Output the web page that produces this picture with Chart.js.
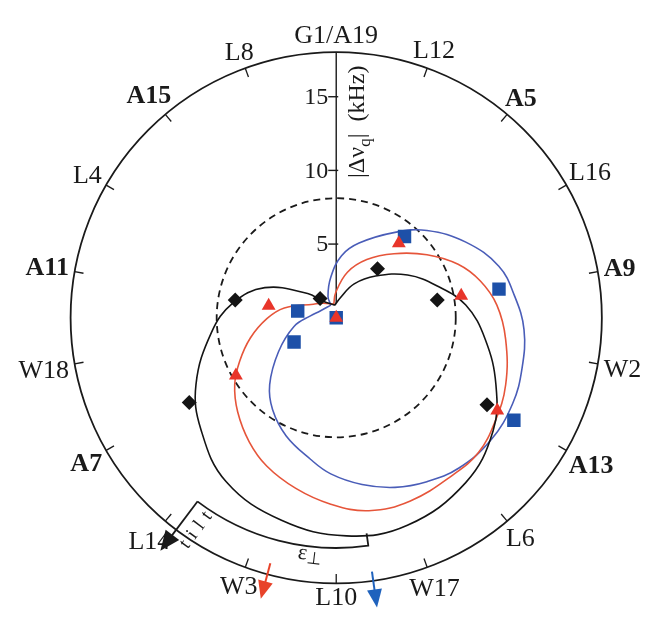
<!DOCTYPE html>
<html lang="en">
<head>
  <meta charset="UTF-8">
  <title>Helical wheel |Δνq|</title>
  <script src="https://cdn.jsdelivr.net/npm/chart.js"></script>
  <style>
    body { margin: 0; background: #fff; }
    .chart-container { position: relative; width: 654px; height: 619px; }
  </style>
</head>
<body>

  <div class="chart-container">
    <canvas id="myChart"></canvas>
  </div>

<script>
  // wheel positions, 20 deg apart, clockwise from the top
  const wheelLabels = ['G1/A19', 'L12', 'A5', 'L16', 'A9', 'W2', 'A13', 'L6', 'W17',
                       'L10', 'W3', 'L14', 'A7', 'W18', 'A11', 'L4', 'A15', 'L8'];
  const boldLabels = ['A5', 'A9', 'A13', 'A7', 'A11', 'A15'];
  const radialTicks = [5, 10, 15];

  // measured Ala positions: A5, A9, A13, A7, A11, A15
  const alaAngles = [40, 80, 120, 240, 280, 320];
  const blackVals = [4.35, 6.95, 11.8, 11.5, 6.95, 1.7];
  const redVals   = [6.6, 8.6, 12.6, 7.85, 4.65, 0];
  const blueVals  = [7.2, 11.2, 13.9, 3.3, 2.65, 0];

  // fitted curves, [angle, |dv| kHz]
  const blackCurve = [[353.4,0.86],[12.1,1.41],[27.9,2.6],[43.3,3.89],[59.1,5.64],[72.3,7.15],
    [84.4,8.82],[98.2,10.2],[112.8,11.74],[125.9,13.12],[141.9,14.22],[161.1,14.89],[177.3,14.82],
    [195.1,14.24],[213.9,13.39],[230.5,11.89],[244.5,10.53],[263.3,8.51],[278,7.08],[292.9,5.25],
    [310.3,2.54],[321.6,1.43],[353.4,0.86]];
  const redCurve = [[349.9,0.94],[358.9,1.71],[13.8,3.18],[27.7,4.46],[42,5.85],[55.2,7.49],
    [66.3,9.02],[75.7,10.08],[85.5,10.92],[97.2,11.57],[111.6,12.35],[123.2,12.86],[133.5,13.29],
    [143.4,13.28],[158,13.41],[170.4,13.28],[181.9,12.64],[193.3,11.9],[205.1,11.11],[215,10.28],
    [226.3,9.24],[236.6,8.24],[245.7,7.18],[256.7,5.98],[269.2,4.7],[280.6,3.58],[300.8,1.8],
    [318,1.33],[349.9,0.94]];
  const blueCurve = [[337.1,0.93],[338.9,1.55],[352.5,2.79],[4.9,4.23],[17,5.3],[34.5,7.03],
    [46.1,8.54],[59.7,10.17],[72.4,11.56],[82.9,12.17],[93.6,12.75],[105.2,13.05],[116.1,13.3],
    [128.3,13.37],[140.8,13.16],[151.1,12.71],[160.9,12.18],[171.2,11.45],[182,10.6],[190.3,9.76],
    [202.9,8.71],[214.6,7.59],[224.8,6.4],[239.5,4.54],[258.3,2.92],[274.3,1.75],[293,1.18],
    [337.1,0.93]];

  const wheelRadius = 18;
  const refRadius = 8.1;
  const redDir = 195, blueDir = 172, tiltDir = 217;

  const serif = "'Liberation Serif', 'Times New Roman', serif";

  function toXY(angle, r) {
    var a = angle * Math.PI / 180;
    return { x: r * Math.sin(a), y: r * Math.cos(a) };
  }

  function curveData(c) {
    return c.map(p => toXY(p[0], p[1]));
  }

  function pointData(vals) {
    return alaAngles.map((a, i) => toXY(a, vals[i]));
  }

  function drawArrow(ctx, from, to, color, lw, headLen, headW) {
    var dx = to[0] - from[0], dy = to[1] - from[1];
    var len = Math.hypot(dx, dy), ux = dx / len, uy = dy / len;
    var bx = to[0] - ux * headLen, by = to[1] - uy * headLen;
    ctx.strokeStyle = color;
    ctx.lineWidth = lw;
    ctx.beginPath();
    ctx.moveTo(from[0], from[1]);
    ctx.lineTo(bx + ux * 2, by + uy * 2);
    ctx.stroke();
    ctx.fillStyle = color;
    ctx.beginPath();
    ctx.moveTo(to[0], to[1]);
    ctx.lineTo(bx - uy * headW / 2, by + ux * headW / 2);
    ctx.lineTo(bx + uy * headW / 2, by - ux * headW / 2);
    ctx.closePath();
    ctx.fill();
  }

  const wheel = {
    id: 'wheel',
    beforeDatasetsDraw(chart) {
      const ctx = chart.ctx;
      const xs = chart.scales.x, ys = chart.scales.y;
      const cx = xs.getPixelForValue(0), cy = ys.getPixelForValue(0);
      const k = xs.getPixelForValue(1) - cx;
      const pt = (a, r) => {
        var p = toXY(a, r);
        return [xs.getPixelForValue(p.x), ys.getPixelForValue(p.y)];
      };
      const R = wheelRadius * k;

      ctx.save();

      // outer wheel
      ctx.strokeStyle = '#1a1a1a';
      ctx.lineWidth = 1.8;
      ctx.beginPath();
      ctx.arc(cx, cy, R, 0, Math.PI * 2);
      ctx.stroke();

      // ticks and residue labels
      ctx.lineWidth = 1.3;
      wheelLabels.forEach((lab, i) => {
        var ang = i * 20;
        var p0 = pt(ang, wheelRadius), p1 = pt(ang, wheelRadius - 9 / k);
        if (i > 0) {
          ctx.beginPath();
          ctx.moveTo(p0[0], p0[1]);
          ctx.lineTo(p1[0], p1[1]);
          ctx.stroke();
        }
        ctx.font = (boldLabels.includes(lab) ? 'bold ' : '') + '26px ' + serif;
        var w = ctx.measureText(lab).width;
        var capH = 17;
        var a = ang * Math.PI / 180;
        var ext = Math.abs(Math.sin(a)) * w / 2 + Math.abs(Math.cos(a)) * capH / 2;
        var d = R + 5 + ext + (ang === 0 ? 4 : 0);
        var lx = cx + d * Math.sin(a), ly = cy - d * Math.cos(a);
        ctx.fillStyle = '#1a1a1a';
        ctx.textAlign = 'center';
        ctx.textBaseline = 'alphabetic';
        ctx.fillText(lab, lx, ly + capH / 2);
      });

      // dashed reference circle
      ctx.setLineDash([7, 5]);
      ctx.lineWidth = 1.8;
      ctx.beginPath();
      ctx.arc(cx, cy, refRadius * k, 0, Math.PI * 2);
      ctx.stroke();
      ctx.setLineDash([]);

      // radial axis
      ctx.lineWidth = 1.4;
      ctx.beginPath();
      ctx.moveTo(cx, ys.getPixelForValue(1.0));
      ctx.lineTo(cx, ys.getPixelForValue(wheelRadius));
      ctx.stroke();
      ctx.font = '24px ' + serif;
      ctx.textAlign = 'right';
      ctx.textBaseline = 'middle';
      radialTicks.forEach(t => {
        var ty = ys.getPixelForValue(t);
        ctx.beginPath();
        ctx.moveTo(cx - 8, ty);
        ctx.lineTo(cx + 2, ty);
        ctx.stroke();
        ctx.fillText(String(t), cx - 8, ty + 1);
      });

      // axis title, rotated
      ctx.save();
      ctx.translate(cx + 20, ys.getPixelForValue(13.3));
      ctx.rotate(-Math.PI / 2);
      var parts = [['|Δν', 24, 0], ['q', 17, 6], ['|  (kHz)', 24, 0]];
      var total = 0;
      parts.forEach(p => { ctx.font = p[1] + 'px ' + serif; total += ctx.measureText(p[0]).width; });
      var x0 = -total / 2;
      ctx.textAlign = 'left';
      ctx.textBaseline = 'alphabetic';
      parts.forEach(p => {
        ctx.font = p[1] + 'px ' + serif;
        ctx.fillText(p[0], x0, 8 + p[2]);
        x0 += ctx.measureText(p[0]).width;
      });
      ctx.restore();

      // direction arrows
      drawArrow(ctx, pt(redDir, 17.25), pt(redDir, 19.75), '#e8432a', 2, 18, 15);
      drawArrow(ctx, pt(blueDir, 17.4), pt(blueDir, 19.85), '#1f62bd', 2, 18, 15);

      // tilt bracket
      var rb = 15.6;
      ctx.strokeStyle = '#1a1a1a';
      ctx.lineWidth = 1.8;
      ctx.beginPath();
      var s = pt(blueDir, 14.78);
      ctx.moveTo(s[0], s[1]);
      var s2 = pt(blueDir, rb);
      ctx.lineTo(s2[0], s2[1]);
      ctx.arc(cx, cy, rb * k, (blueDir - 90) * Math.PI / 180, (tiltDir - 90) * Math.PI / 180, false);
      ctx.stroke();
      drawArrow(ctx, pt(tiltDir, rb), pt(tiltDir, 19.8), '#1a1a1a', 1.8, 20, 17);

      // tilt label along the arrow
      var tc = pt(213.4, 17.26);
      var rot = (tiltDir - 270) * Math.PI / 180;
      var chars = ['t', 'i', 'l', 't'];
      ctx.font = '19px ' + serif;
      ctx.fillStyle = '#1a1a1a';
      chars.forEach((c, i) => {
        var off = (i - 1.5) * 12;
        ctx.save();
        ctx.translate(tc[0] + off * Math.cos(rot), tc[1] + off * Math.sin(rot));
        ctx.rotate(rot);
        ctx.textAlign = 'center';
        ctx.textBaseline = 'middle';
        ctx.fillText(c, 0, 0);
        ctx.restore();
      });

      // epsilon label on the bracket
      var ec = pt(187, 16.2);
      ctx.save();
      ctx.translate(ec[0], ec[1]);
      ctx.rotate((187 - 180) * Math.PI / 180);
      ctx.textBaseline = 'alphabetic';
      ctx.textAlign = 'left';
      ctx.font = '22px ' + serif;
      var ew = ctx.measureText('ε').width;
      ctx.fillText('ε', -ew, 5);
      ctx.font = '17px ' + serif;
      ctx.fillText('⊥', 0, 8);
      ctx.restore();

      ctx.restore();
    }
  };

  const ctx = document.getElementById('myChart');

  const data = {
    datasets: [
      { label: 'black', data: pointData(blackVals), pointStyle: 'rectRot', pointRadius: 7.5,
        backgroundColor: '#141414', borderColor: '#141414', borderWidth: 0, order: 0 },
      { label: 'red', data: pointData(redVals), pointStyle: 'triangle', pointRadius: 8,
        backgroundColor: '#e8352a', borderColor: '#e8352a', borderWidth: 0, order: 1 },
      { label: 'blue', data: pointData(blueVals), pointStyle: 'rect', pointRadius: 9.5,
        backgroundColor: '#1d50a8', borderColor: '#1d50a8', borderWidth: 0, order: 2 },
      { label: 'black fit', data: curveData(blackCurve), showLine: true, pointRadius: 0,
        borderColor: '#141414', borderWidth: 1.6, tension: 0.4, fill: false, order: 3 },
      { label: 'red fit', data: curveData(redCurve), showLine: true, pointRadius: 0,
        borderColor: '#e6553a', borderWidth: 1.6, tension: 0.4, fill: false, order: 4 },
      { label: 'blue fit', data: curveData(blueCurve), showLine: true, pointRadius: 0,
        borderColor: '#4a5db8', borderWidth: 1.6, tension: 0.4, fill: false, order: 5 }
    ]
  };

  const config = {
    type: 'scatter',
    data: data,
    options: {
      responsive: true,
      maintainAspectRatio: false,
      animation: false,
      events: [],
      layout: { padding: 0 },
      plugins: { legend: { display: false }, tooltip: { enabled: false } },
      scales: {
        x: { type: 'linear', display: false, min: -22.14, max: 20.89 },
        y: { type: 'linear', display: false, min: -19.8, max: 20.92 }
      }
    },
    plugins: [wheel]
  };

  var chart = new Chart(ctx, config);
</script>
</body>
</html>
